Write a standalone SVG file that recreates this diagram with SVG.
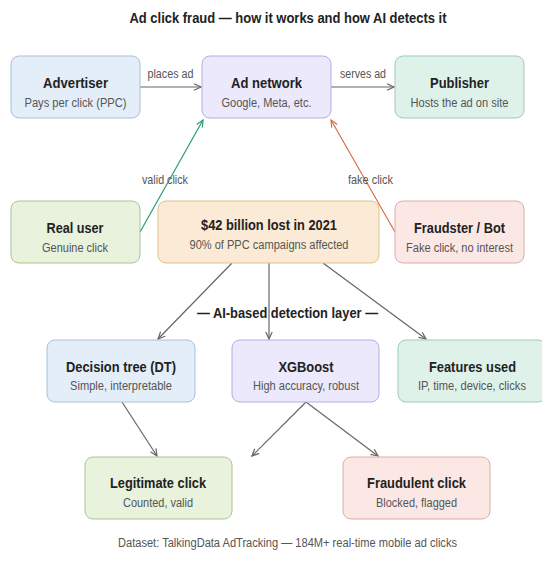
<svg xmlns="http://www.w3.org/2000/svg" width="542" height="561" viewBox="0 0 542 561">
<defs>
<style>
text{font-family:"Liberation Sans",Arial,sans-serif;text-anchor:middle}
.t{font-size:15px;font-weight:bold;fill:#222}
.s{font-size:12px;fill:#555}
.lbl{font-size:12px;fill:#555}
.hd{font-size:14px;font-weight:bold;fill:#222}
.ft{font-size:12px;fill:#555}
rect{stroke-width:1}
.blue{fill:#e4eef9;stroke:#a9c0d8}
.lav{fill:#ebe9fb;stroke:#b4aee0}
.mint{fill:#dff2ea;stroke:#9fcbb7}
.green{fill:#e8f2dc;stroke:#abc593}
.orange{fill:#fbebd6;stroke:#e2c08f}
.pink{fill:#fbe8e5;stroke:#ddaca6}
.c{fill:none;stroke-width:1.2}
.g{stroke:#666}
.gr{stroke:#2f9e7c}
.rd{stroke:#d8714a}
</style>
<marker id="ag" markerUnits="userSpaceOnUse" markerWidth="10" markerHeight="10" refX="8" refY="4" orient="auto" viewBox="0 0 10 8"><path d="M1,0.8 L8,4 L1,7.2" fill="none" stroke="#666" stroke-width="1.2"/></marker>
<marker id="agr" markerUnits="userSpaceOnUse" markerWidth="10" markerHeight="10" refX="8" refY="4" orient="auto" viewBox="0 0 10 8"><path d="M1,0.8 L8,4 L1,7.2" fill="none" stroke="#2f9e7c" stroke-width="1.2"/></marker>
<marker id="ard" markerUnits="userSpaceOnUse" markerWidth="10" markerHeight="10" refX="8" refY="4" orient="auto" viewBox="0 0 10 8"><path d="M1,0.8 L8,4 L1,7.2" fill="none" stroke="#d8714a" stroke-width="1.2"/></marker>
</defs>
<rect width="542" height="561" fill="#ffffff"/>
<text class="hd" x="288" y="23" textLength="317" lengthAdjust="spacingAndGlyphs">Ad click fraud — how it works and how AI detects it</text>

<g id="connectors">
<line class="c g" x1="140" y1="87" x2="201" y2="87" marker-end="url(#ag)"/>
<line class="c g" x1="331" y1="87" x2="394" y2="87" marker-end="url(#ag)"/>
<line class="c gr" x1="140" y1="232" x2="203" y2="120" marker-end="url(#agr)"/>
<line class="c rd" x1="395" y1="232" x2="331" y2="120" marker-end="url(#ard)"/>
<line class="c g" x1="232" y1="263" x2="158" y2="339" marker-end="url(#ag)"/>
<line class="c g" x1="269" y1="263" x2="269" y2="339" marker-end="url(#ag)"/>
<line class="c g" x1="323" y1="263" x2="426" y2="339" marker-end="url(#ag)"/>
<line class="c g" x1="122" y1="402" x2="157" y2="456" marker-end="url(#ag)"/>
<line class="c g" x1="306" y1="402" x2="252" y2="456" marker-end="url(#ag)"/>
<line class="c g" x1="306" y1="402" x2="378" y2="456" marker-end="url(#ag)"/>
<text class="lbl" x="170.5" y="78" textLength="46" lengthAdjust="spacingAndGlyphs">places ad</text>
<text class="lbl" x="363" y="78" textLength="46" lengthAdjust="spacingAndGlyphs">serves ad</text>
<text class="lbl" x="165" y="184" textLength="46" lengthAdjust="spacingAndGlyphs">valid click</text>
<text class="lbl" x="370.5" y="184" textLength="45" lengthAdjust="spacingAndGlyphs">fake click</text>
</g>

<g id="advertiser">
<rect class="blue" x="11" y="56" width="129" height="62" rx="8"/>
<text class="t" x="75.5" y="88" textLength="65" lengthAdjust="spacingAndGlyphs">Advertiser</text>
<text class="s" x="75.5" y="107" textLength="102" lengthAdjust="spacingAndGlyphs">Pays per click (PPC)</text>
</g>
<g id="ad-network">
<rect class="lav" x="202" y="56" width="129" height="62" rx="8"/>
<text class="t" x="266.5" y="88" textLength="71" lengthAdjust="spacingAndGlyphs">Ad network</text>
<text class="s" x="266.5" y="107" textLength="90" lengthAdjust="spacingAndGlyphs">Google, Meta, etc.</text>
</g>
<g id="publisher">
<rect class="mint" x="395" y="56" width="129" height="62" rx="8"/>
<text class="t" x="459.5" y="88" textLength="59" lengthAdjust="spacingAndGlyphs">Publisher</text>
<text class="s" x="459.5" y="107" textLength="98" lengthAdjust="spacingAndGlyphs">Hosts the ad on site</text>
</g>

<g id="real-user">
<rect class="green" x="11" y="201" width="129" height="62" rx="8"/>
<text class="t" x="75" y="233" textLength="57" lengthAdjust="spacingAndGlyphs">Real user</text>
<text class="s" x="75" y="252" textLength="66" lengthAdjust="spacingAndGlyphs">Genuine click</text>
</g>
<g id="loss">
<rect class="orange" x="158" y="201" width="221" height="62" rx="8"/>
<text class="t" x="269" y="230" textLength="136" lengthAdjust="spacingAndGlyphs">$42 billion lost in 2021</text>
<text class="s" x="269" y="249" textLength="159" lengthAdjust="spacingAndGlyphs">90% of PPC campaigns affected</text>
</g>
<g id="fraudster">
<rect class="pink" x="395" y="201" width="129" height="62" rx="8"/>
<text class="t" x="459.5" y="233" textLength="91" lengthAdjust="spacingAndGlyphs">Fraudster / Bot</text>
<text class="s" x="459.5" y="252" textLength="107" lengthAdjust="spacingAndGlyphs">Fake click, no interest</text>
</g>

<text class="hd" x="287.5" y="318" textLength="181" lengthAdjust="spacingAndGlyphs">— AI-based detection layer —</text>

<g id="decision-tree">
<rect class="blue" x="47" y="340" width="148" height="62" rx="8"/>
<text class="t" x="121" y="372" textLength="110" lengthAdjust="spacingAndGlyphs">Decision tree (DT)</text>
<text class="s" x="121" y="390" textLength="102" lengthAdjust="spacingAndGlyphs">Simple, interpretable</text>
</g>
<g id="xgboost">
<rect class="lav" x="232" y="340" width="147" height="62" rx="8"/>
<text class="t" x="306" y="372" textLength="55" lengthAdjust="spacingAndGlyphs">XGBoost</text>
<text class="s" x="306" y="390" textLength="106" lengthAdjust="spacingAndGlyphs">High accuracy, robust</text>
</g>
<g id="features">
<rect class="mint" x="398" y="340" width="148" height="62" rx="8"/>
<text class="t" x="472.5" y="372" textLength="87" lengthAdjust="spacingAndGlyphs">Features used</text>
<text class="s" x="472" y="390" textLength="108" lengthAdjust="spacingAndGlyphs">IP, time, device, clicks</text>
</g>

<g id="legitimate">
<rect class="green" x="85" y="457" width="147" height="62" rx="8"/>
<text class="t" x="158" y="488" textLength="96" lengthAdjust="spacingAndGlyphs">Legitimate click</text>
<text class="s" x="158" y="507" textLength="70" lengthAdjust="spacingAndGlyphs">Counted, valid</text>
</g>
<g id="fraudulent">
<rect class="pink" x="343" y="457" width="147" height="62" rx="8"/>
<text class="t" x="416.5" y="488" textLength="99" lengthAdjust="spacingAndGlyphs">Fraudulent click</text>
<text class="s" x="416.5" y="507" textLength="81" lengthAdjust="spacingAndGlyphs">Blocked, flagged</text>
</g>

<text class="ft" x="287.5" y="547" textLength="339" lengthAdjust="spacingAndGlyphs">Dataset: TalkingData AdTracking — 184M+ real-time mobile ad clicks</text>
</svg>
